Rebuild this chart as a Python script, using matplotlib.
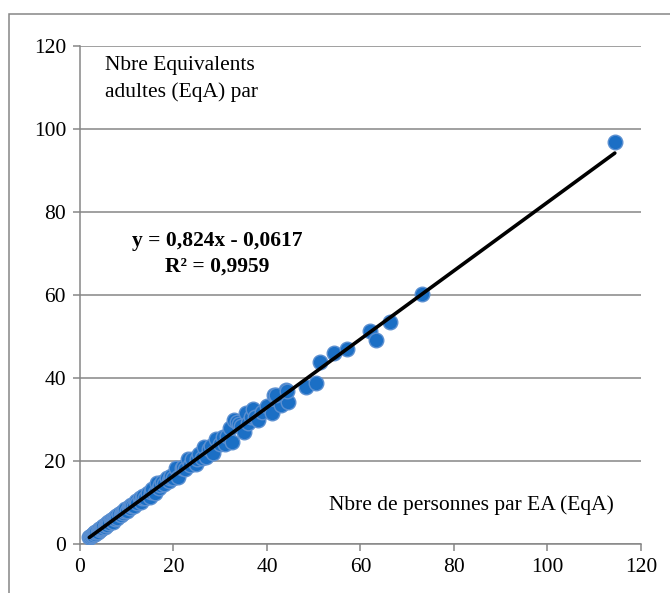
import numpy as np
import matplotlib
matplotlib.use("Agg")
import matplotlib.pyplot as plt
from matplotlib.patches import Rectangle

plt.rcParams['font.family'] = ['Liberation Serif', 'DejaVu Serif']

# Nbre de personnes par EA (EqA)
personnes = [2.0, 2.2, 2.3, 2.5, 2.8, 3.0, 3.2, 3.3, 3.5, 3.8, 4.0, 4.2, 4.4, 4.5, 4.8,
             5.0, 5.3, 5.5, 5.6, 5.8, 6.0, 6.3, 6.6, 6.8, 7.0, 7.2, 7.5, 7.8, 8.0, 8.4,
             8.8, 9.0, 9.3, 9.5, 9.7, 10.0, 10.4, 10.8, 11.0, 11.2, 11.5, 12.0, 12.3,
             12.8, 13.0, 13.2, 13.5, 14.0, 14.5, 15.0, 15.2, 15.5, 16.0, 16.4, 17.0,
             17.2, 17.5, 18.0, 18.6, 19.0, 19.2, 19.5, 20.0, 20.5, 21.0, 21.8, 22.0,
             22.5, 23.0, 23.5, 24.0, 24.8, 25.0, 25.5, 26.0, 26.5, 27.0, 27.5, 28.0,
             28.5, 29.0, 30.0, 30.5, 31.0, 31.5, 32.0, 32.5, 33.0, 33.5, 34.0, 34.5,
             35.0, 35.5, 36.0, 36.5, 37.0, 37.5, 38.0, 39.0, 40.0, 41.0, 41.5, 42.0,
             43.0, 44.0, 44.5,
             41.9, 44.2, 48.3, 50.5, 51.3, 54.3, 57.1, 62.0, 63.3, 66.3, 73.2, 114.4]
# Nbre Equivalents adultes (EqA)
equivalents = [1.6, 1.7, 1.9, 2.2, 2.1, 2.6, 2.5, 2.9, 3.0, 2.9, 3.5, 3.3, 3.6, 3.9, 3.8,
               4.4, 4.1, 4.8, 4.6, 4.5, 5.2, 5.0, 5.8, 5.6, 5.4, 6.3, 6.0, 6.8, 6.3, 7.3,
               7.0, 7.8, 7.4, 8.0, 8.4, 8.0, 9.0, 8.6, 9.5, 9.2, 9.1, 10.3, 9.8,
               11.0, 10.2, 11.0, 11.6, 11.2, 12.3, 11.4, 12.6, 13.2, 12.4, 14.6, 13.6,
               14.2, 15.0, 14.4, 15.8, 15.2, 16.0, 16.5, 16.0, 18.2, 16.2, 18.2, 18.6,
               18.0, 20.4, 19.0, 20.6, 19.2, 20.5, 21.6, 20.8, 23.4, 21.0, 22.8, 23.5,
               22.0, 25.2, 24.0, 25.8, 24.0, 26.0, 28.0, 24.5, 29.8, 29.5, 29.0, 28.4,
               27.0, 31.5, 29.2, 30.5, 32.5, 30.6, 30.0, 31.8, 33.2, 31.6, 35.8, 35.6,
               33.5, 37.2, 34.2,
               35.9, 36.9, 37.8, 38.8, 43.9, 46.0, 47.0, 51.3, 49.2, 53.5, 60.2, 96.9]

pente = 0.824
ordonnee = -0.0617
r2 = 0.9959

fig = plt.figure(figsize=(6.7, 5.93), dpi=100)
ax = fig.add_axes([0.1194, 0.0826, 0.8373, 0.8398])

gris = '#868686'
ax.scatter(personnes, equivalents, s=110, color='#1B6FC5', edgecolors='#5B8FD0',
           linewidths=1.0, zorder=3)

xs = np.array([min(personnes), max(personnes)])
ax.plot(xs, pente * xs + ordonnee, color='black', lw=2.6, zorder=4,
        solid_capstyle='round')

ax.set_xlim(0, 120)
ax.set_ylim(0, 120)
ax.set_xticks(range(0, 121, 20))
ax.set_yticks(range(0, 121, 20))
ax.yaxis.grid(True, color=gris, lw=1.1)
ax.set_axisbelow(True)
for s in ['top', 'right']:
    ax.spines[s].set_visible(False)
for s in ['left', 'bottom']:
    ax.spines[s].set_color(gris)
    ax.spines[s].set_linewidth(1.1)
ax.tick_params(direction='out', length=5, width=1.1, color=gris,
               labelsize=15.5, pad=5)

ax.text(5.3, 117.5, "Nbre Equivalents\nadultes (EqA) par", fontsize=15.5,
        va='top', ha='left', linespacing=1.45)
ax.text(29.3, 70.0, "y = 0,824x - 0,0617\nR² = 0,9959", fontsize=15.5,
        fontweight='bold', ha='center', va='center', multialignment='center',
        linespacing=1.4)
ax.text(114.2, 9.4, "Nbre de personnes par EA (EqA)", fontsize=15.5,
        ha='right', va='center')

fig.add_artist(Rectangle((9 / 670, -0.1), 1.2, 1.1 - 14 / 593,
                         transform=fig.transFigure, fill=False,
                         edgecolor=gris, lw=1.1))

fig.savefig("out.png", dpi=100)
